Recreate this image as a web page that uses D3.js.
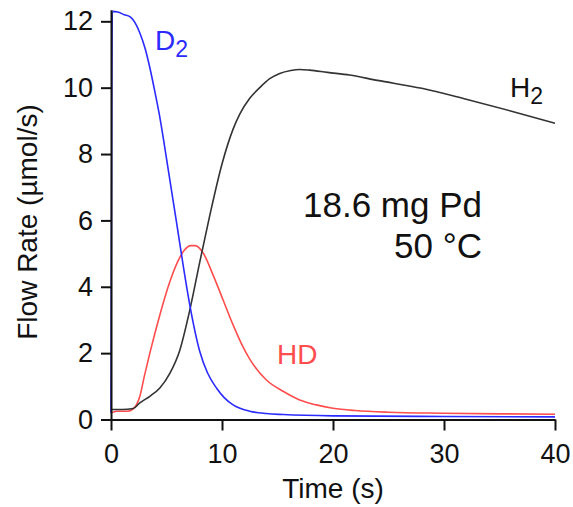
<!DOCTYPE html>
<html>
<head>
<meta charset="utf-8">
<script src="https://cdn.jsdelivr.net/npm/d3@7"></script>
<style>
	body { margin: 0; background: #fff; }
	svg { display: block; font-family: "Liberation Sans", Arial, sans-serif; }
</style>
</head>
<body>
<div id="chart"></div>
<script>
// [time (s), flow rate (umol/s)]
const d2Points = [
	[0, 0.2], [0.12, 12.3], [0.6, 12.28], [1.2, 12.2], [1.7, 12.14], [2.0, 12.04],
	[2.6, 11.65], [3.1, 11.15], [3.5, 10.6], [4.0, 9.8], [4.35, 9.2], [4.7, 8.5],
	[5.1, 7.65], [5.5, 6.8], [5.9, 5.95], [6.5, 4.65], [7.1, 3.45], [8.0, 2.05],
	[8.7, 1.4], [9.5, 0.95], [10.2, 0.66], [11, 0.44], [12.5, 0.25], [14, 0.18],
	[15.5, 0.15], [20, 0.11], [30, 0.09], [40, 0.08]
];
const hdPoints = [
	[0, 0.2], [0.5, 0.25], [1.5, 0.25], [2.0, 0.32], [2.6, 0.7], [3.0, 1.3],
	[3.5, 2.0], [4.4, 3.15], [5.3, 4.15], [6.0, 4.75], [6.6, 5.1], [7.2, 5.24],
	[7.6, 5.24], [8.3, 5.02], [9.2, 4.35], [10.1, 3.6], [11.0, 2.85], [11.8, 2.25],
	[12.5, 1.82], [14, 1.19], [15.5, 0.85], [17, 0.59], [18.5, 0.44], [20, 0.34],
	[22, 0.27], [25, 0.22], [30, 0.19], [35, 0.17], [40, 0.16]
];
const h2Points = [
	[0, 0.3], [1, 0.3], [2, 0.33], [2.6, 0.5], [3.5, 0.7], [4.4, 0.95], [5.3, 1.39],
	[6.2, 2.09], [7.1, 3.3], [8.0, 4.75], [8.9, 6.15], [10, 7.7], [11, 8.75],
	[11.6, 9.2], [12.5, 9.68], [13.4, 10.0], [14.3, 10.27], [15.2, 10.43],
	[16.2, 10.52], [17, 10.55], [17.9, 10.53], [19.5, 10.46], [21.5, 10.38],
	[24, 10.22], [28, 9.98], [32, 9.65], [36, 9.3], [40, 8.93]
];

const xTicks = [0, 10, 20, 30, 40];
const yTicks = [0, 2, 4, 6, 8, 10, 12];

const width = 573, height = 507;

const scale = {
	x: d3.scaleLinear().domain([0, 40]).range([111, 555]),
	y: d3.scaleLinear().domain([0, 12.35]).range([419.5, 9.7])
};

const lineBuilder = d3.line()
	.x((d) => scale.x(d[0]))
	.y((d) => scale.y(d[1]))
	.curve(d3.curveMonotoneX);

const $svg = d3.select("#chart").append("svg")
	.attr("width", width)
	.attr("height", height);

// series
const series = [
	{ points: hdPoints, color: "#ff4d4d" },
	{ points: h2Points, color: "#333333" },
	{ points: d2Points, color: "#2b2bff" }
];
$svg.selectAll(".series")
	.data(series)
	.enter()
	.append("path")
	.attr("class", "series")
	.attr("fill", "none")
	.attr("stroke", (d) => d.color)
	.attr("stroke-width", 1.6)
	.attr("d", (d) => lineBuilder(d.points));

// axes
const styleAxis = (g) => {
	g.attr("font-family", null);
	g.select(".domain").attr("stroke", "#111").attr("stroke-width", 2);
	g.selectAll(".tick line").attr("stroke", "#111").attr("stroke-width", 2);
	g.selectAll(".tick text").attr("fill", "#111").attr("font-size", 27);
};

$svg.append("g")
	.attr("transform", `translate(0,${scale.y(0)})`)
	.call(d3.axisBottom(scale.x).tickValues(xTicks).tickSize(11).tickSizeOuter(0).tickPadding(13))
	.call(styleAxis);

$svg.append("g")
	.attr("transform", `translate(${scale.x(0)},0)`)
	.call(d3.axisLeft(scale.y).tickValues(yTicks).tickSize(10).tickSizeOuter(0).tickPadding(8))
	.call(styleAxis);

// axis titles
$svg.append("text")
	.attr("x", scale.x(20))
	.attr("y", 498)
	.attr("text-anchor", "middle")
	.attr("font-size", 28)
	.attr("fill", "#111")
	.text("Time (s)");

$svg.append("text")
	.attr("transform", "translate(37,222) rotate(-90)")
	.attr("text-anchor", "middle")
	.attr("font-size", 28)
	.attr("fill", "#111")
	.text("Flow Rate (µmol/s)");

// series labels
const addLabel = (x, y, main, sub, color) => {
	const t = $svg.append("text")
		.attr("x", x)
		.attr("y", y)
		.attr("font-size", 28)
		.attr("fill", color);
	t.append("tspan").text(main);
	if (sub) {
		t.append("tspan").attr("dy", 7).attr("font-size", 23).text(sub);
	}
};
addLabel(155, 50, "D", "2", "#2b2bff");
addLabel(510, 97, "H", "2", "#111");
addLabel(277, 364, "HD", null, "#ff4d4d");

// annotation
$svg.append("text")
	.attr("x", 482)
	.attr("y", 217)
	.attr("text-anchor", "end")
	.attr("font-size", 35)
	.attr("fill", "#111")
	.text("18.6 mg Pd");
$svg.append("text")
	.attr("x", 482)
	.attr("y", 258)
	.attr("text-anchor", "end")
	.attr("font-size", 35)
	.attr("fill", "#111")
	.text("50 °C");
</script>
</body>
</html>
